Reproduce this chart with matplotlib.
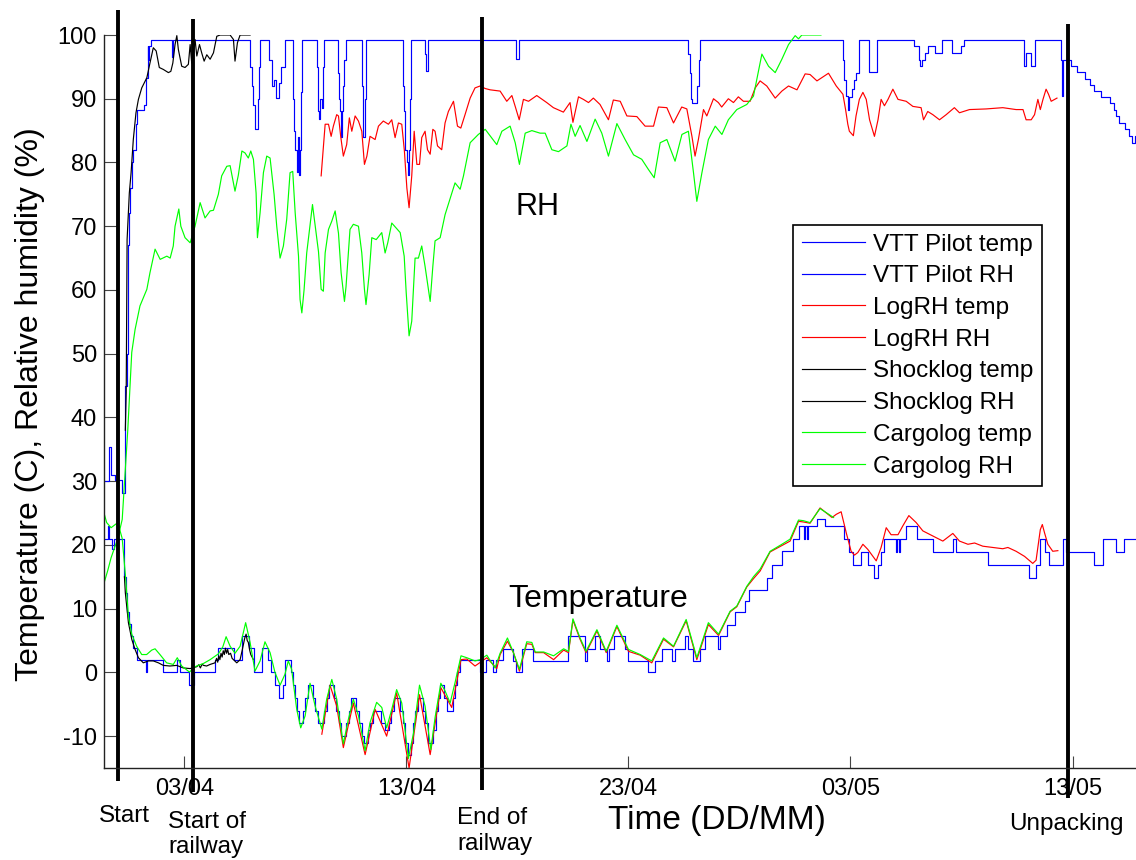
import numpy as np
import matplotlib
matplotlib.use("Agg")
import matplotlib.pyplot as plt
import matplotlib.dates as mdates

plt.rcParams.update({"font.family": ["Liberation Sans", "DejaVu Sans"],
                     "axes.unicode_minus": False})

# all times are days after 03/04 00:00
BASE = np.datetime64("2009-04-03T00:00")

# ---------------------------------------------------------------
# VTT Pilot (blue, stepped logger)
# ---------------------------------------------------------------
vtt_temp_day = [-3.62, -3.45, -3.38, -3.25, -3.15, -2.72, -2.64, -2.58, -2.5, -2.42, -2.32, -2.15,
                -1.73, -1.69, -0.95, -0.35, -0.2, 0.22, 0.45, 1.38, 1.53, 2.22, 2.6, 2.9, 3.12,
                3.49, 3.78, 3.9, 4.08, 4.24, 4.44, 4.54, 4.8, 4.9, 4.97, 5.05, 5.15, 5.36, 5.45,
                5.55, 5.78, 5.9, 6.02, 6.3, 6.42, 6.52, 6.75, 6.85, 6.95, 7.05, 7.3, 7.4, 7.5,
                7.75, 7.88, 8.0, 8.1, 8.28, 8.38, 8.48, 8.85, 9.05, 9.22, 9.32, 9.45, 9.72, 9.85,
                9.95, 10.05, 10.2, 10.3, 10.4, 10.5, 10.75, 10.85, 10.95, 11.2, 11.32, 11.42,
                11.5, 11.7, 11.85, 12.1, 12.2, 12.3, 12.4, 13.32, 13.6, 13.92, 14.05, 14.34,
                14.82, 14.94, 15.2, 15.72, 17.3, 18.05, 18.15, 18.5, 18.73, 19.03, 19.14, 19.33,
                19.85, 20.0, 20.9, 21.2, 21.5, 21.95, 22.1, 22.55, 22.7, 22.93, 23.23, 23.45,
                24.05, 24.13, 24.43, 24.81, 25.26, 25.41, 26.23, 26.46, 26.91, 27.43, 27.66,
                27.9, 27.95, 28.05, 28.1, 28.48, 28.86, 29.73, 29.93, 30.11, 30.48, 30.78, 31.04,
                31.23, 31.38, 31.53, 32.04, 32.08, 32.19, 32.23, 32.51, 32.99, 33.71, 34.61,
                34.76, 36.19, 38.06, 38.34, 38.55, 38.74, 38.96, 39.59, 39.72, 40.99, 41.37,
                41.97, 42.34, 42.87]
vtt_temp_val = [21.0, 23.0, 21.0, 19.3, 21.0, 15.0, 12.5, 9.5, 7.6, 5.7, 3.8, 1.9,
                0.0, 1.9, 0.0, 1.9, 0.0, -2.0, 0.0, 1.9, 3.8, 1.9, 5.7, 3.8, 0.0,
                3.8, 1.9, 0.0, -2.0, -4.0, -2.0, 1.9, 0.0, -2.0, -4.0, -6.0, -8.0, -6.0, -4.0,
                -2.0, -4.0, -6.0, -8.0, -6.0, -4.0, -2.0, -4.0, -6.0, -8.0, -10.0, -8.0, -6.0, -4.0,
                -6.0, -8.0, -10.0, -11.0, -9.0, -8.0, -6.0, -8.0, -9.0, -8.0, -6.0, -4.0, -6.0, -8.0,
                -11.0, -13.0, -11.0, -8.0, -6.0, -4.0, -6.0, -8.0, -11.0, -9.0, -6.0, -4.0,
                -2.0, -4.0, -6.0, -4.0, -2.0, 0.0, 1.9, 0.0, 1.9, 0.0, 1.9, 3.7,
                1.8, 0.0, 3.7, 1.8, 5.7, 1.8, 3.7, 5.7, 3.7, 1.8, 3.7, 5.7,
                3.7, 1.8, 0.0, 1.8, 3.7, 1.8, 3.7, 5.7, 3.7, 1.8, 3.7, 5.7,
                3.7, 5.7, 7.5, 9.4, 11.2, 13.0, 14.85, 16.8, 19.0, 21.0, 23.0,
                21.0, 23.0, 21.0, 23.0, 24.0, 23.0, 21.0, 18.9, 16.9, 18.9, 16.9, 14.85,
                16.9, 18.9, 21.0, 18.9, 21.0, 18.9, 21.0, 23.0, 21.0, 18.9, 21.0,
                18.9, 16.9, 14.85, 16.9, 21.0, 18.9, 16.9, 21.0, 18.9, 16.9, 21.0,
                18.9, 21.0, 21.0]

vtt_rh_day = [-3.62, -3.39, -3.3, -3.12, -2.8, -2.69, -2.6, -2.56, -2.5, -2.45, -2.38, -2.3, -2.2,
              -2.14, -1.8, -1.72, -1.66, -1.62, -1.58, -1.5, -0.55, -0.5, 2.97, 3.05, 3.1, 3.2,
              3.3, 3.35, 3.41, 3.83, 3.95, 4.05, 4.13, 4.25, 4.35, 4.54, 4.88, 4.95, 5.0, 5.05,
              5.1, 5.15, 5.2, 5.25, 5.29, 5.98, 6.02, 6.08, 6.12, 6.18, 6.25, 6.28, 6.92, 6.97,
              7.02, 7.05, 7.1, 7.15, 7.2, 7.3, 8.0, 8.05, 8.12, 8.17, 9.84, 9.9, 9.95, 10.02,
              10.08, 10.12, 10.16, 10.2, 10.86, 10.9, 10.96, 14.95, 15.05, 22.69, 22.75, 22.82,
              22.88, 23.1, 23.18, 23.23, 29.66, 29.72, 29.78, 29.88, 29.95, 30.05, 30.15, 30.26,
              30.38, 30.84, 31.18, 32.88, 33.08, 33.15, 33.22, 33.35, 33.5, 33.82, 34.12, 34.57,
              34.96, 35.1, 37.8, 37.92, 38.14, 38.33, 39.5, 39.54, 39.58, 39.94, 40.2, 40.54,
              40.8, 40.95, 41.29, 41.67, 41.85, 41.97, 42.1, 42.36, 42.55, 42.66, 42.8, 42.9]
vtt_rh_val = [30.0, 35.3, 31.0, 30.2, 28.1, 45.0, 50.0, 67.0, 72.0, 76.0, 80.0, 82.0, 86.0,
              88.3, 89.0, 93.3, 98.2, 96.0, 98.2, 99.2, 96.6, 99.2, 95.0, 92.0, 89.0, 85.2,
              90.0, 95.0, 99.2, 96.0, 92.0, 93.0, 90.1, 92.5, 95.0, 99.2, 90.0, 85.0, 82.0, 78.5,
              84.0, 78.0, 82.0, 91.0, 99.2, 95.0, 88.0, 86.8, 90.0, 88.5, 95.0, 99.2, 94.0, 90.0,
              88.0, 84.0, 88.0, 92.0, 96.0, 99.2, 92.0, 84.0, 90.0, 99.2, 92.0, 88.0, 82.0, 80.0,
              78.0, 82.0, 90.0, 99.2, 97.0, 94.3, 99.2, 96.3, 99.2, 97.0, 94.0, 90.0,
              89.3, 92.0, 96.0, 99.2, 96.0, 93.0, 90.5, 88.3, 90.3, 91.5, 93.0, 94.1,
              99.2, 94.2, 99.2, 98.2, 96.1, 95.2, 96.1, 97.1, 98.2, 97.1, 99.2, 97.1,
              98.2, 99.2, 95.2, 97.1, 95.2, 99.2, 96.1, 90.5, 96.1, 95.1, 94.2, 93.1,
              92.1, 91.2, 90.3, 89.4, 88.3, 87.3, 86.2, 85.2, 84.1, 83.1, 84.1, 84.1]

# ---------------------------------------------------------------
# LogRH (red)
# ---------------------------------------------------------------
logrh_temp_day = [6.19, 6.56, 6.86, 7.16, 7.61, 8.14, 8.59, 9.11, 9.56, 10.12, 10.59, 11.07, 11.55,
                  12.04, 12.46, 12.72, 13.09, 13.62, 14.07, 14.22, 14.55, 14.82, 15.09, 15.42, 15.65,
                  15.8, 16.18, 16.63, 17.08, 17.3, 17.5, 17.82, 18.09, 18.58, 19.0, 19.48, 20.0,
                  20.53, 21.05, 21.58, 22.03, 22.6, 23.08, 23.6, 24.06, 24.58, 24.88, 25.33, 25.63,
                  25.93, 26.38, 26.91, 27.28, 27.66, 27.88, 28.18, 28.63, 29.17, 29.36, 29.58,
                  29.81, 30.03, 30.18, 30.33, 30.56, 30.78, 31.16, 31.38, 31.61, 31.83, 32.14,
                  32.36, 32.63, 32.96, 33.26, 33.71, 34.16, 34.61, 34.91, 35.29, 35.59, 35.96,
                  36.41, 36.86, 37.09, 37.46, 37.84, 38.21, 38.36, 38.55, 38.64, 38.74, 38.89,
                  39.11, 39.34]
logrh_temp_val = [-9.7, -2.0, -5.3, -11.8, -4.8, -12.9, -5.8, -10.0, -3.2, -15.0, -3.5, -12.9, -2.4,
                  -5.5, 2.0, 2.1, 1.0, 2.3, 0.6, 2.8, 4.9, 3.1, 0.2, 4.5, 4.4,
                  3.1, 3.1, 2.0, 3.5, 3.1, 8.2, 5.2, 3.1, 6.5, 3.1, 7.2, 3.3,
                  2.7, 1.5, 5.2, 4.0, 8.1, 2.0, 7.5, 5.8, 9.5, 10.3, 13.4, 14.7,
                  15.9, 18.9, 19.9, 20.6, 23.7, 23.6, 23.4, 25.8, 24.3, 24.8, 25.2,
                  21.9, 19.0, 18.4, 18.8, 20.1, 19.3, 17.5, 19.6, 22.7, 21.6, 21.6,
                  23.0, 24.6, 23.5, 22.2, 21.4, 20.6, 21.8, 20.6, 20.1, 20.3, 19.8,
                  19.6, 19.4, 19.6, 19.0, 18.2, 17.1, 17.6, 22.4, 23.2, 21.9, 20.1,
                  19.0, 19.1]

logrh_rh_day = [6.16, 6.34, 6.49, 6.61, 6.71, 6.86, 6.94, 7.04, 7.16, 7.31, 7.43, 7.54, 7.69, 7.84,
                7.99, 8.11, 8.22, 8.36, 8.59, 8.74, 8.96, 9.19, 9.34, 9.49, 9.64, 9.79, 9.91, 10.02,
                10.12, 10.24, 10.35, 10.47, 10.59, 10.69, 10.84, 10.95, 11.07, 11.19, 11.29, 11.4,
                11.59, 11.74, 11.89, 12.12, 12.3, 12.45, 12.64, 12.87, 13.09, 13.32, 13.55, 13.77,
                14.22, 14.52, 14.75, 14.9, 15.08, 15.27, 15.5, 15.87, 16.32, 16.62, 17.07, 17.37,
                17.5, 17.75, 17.97, 18.2, 18.42, 18.72, 19.1, 19.32, 19.63, 19.93, 20.38, 20.75,
                21.13, 21.35, 21.73, 22.03, 22.4, 22.63, 22.86, 23.0, 23.15, 23.38, 23.53, 23.83,
                24.05, 24.2, 24.5, 24.73, 24.95, 25.18, 25.48, 25.71, 25.93, 26.23, 26.61, 26.91,
                27.21, 27.59, 27.96, 28.18, 28.49, 29.01, 29.36, 29.66, 29.78, 29.88, 29.95, 30.13,
                30.25, 30.4, 30.56, 30.71, 30.86, 31.08, 31.24, 31.38, 31.53, 31.69, 31.91, 32.14,
                32.51, 32.81, 33.18, 33.29, 33.48, 33.71, 34.01, 34.31, 34.68, 34.91, 35.36, 36.11,
                36.86, 37.46, 37.77, 37.91, 38.14, 38.29, 38.44, 38.55, 38.67, 38.81, 38.92, 39.04,
                39.19, 39.3]
logrh_rh_val = [77.9, 86.0, 86.0, 84.1, 85.7, 87.5, 87.3, 84.1, 81.0, 82.8, 87.0, 84.9, 87.3, 86.5,
                84.9, 79.7, 81.0, 84.1, 83.6, 85.7, 86.5, 86.0, 86.7, 83.9, 86.2, 86.0, 81.8, 76.0,
                72.9, 77.9, 84.9, 79.7, 79.7, 83.9, 84.9, 82.0, 81.3, 85.2, 84.9, 82.6,
                82.0, 86.2, 88.0, 89.6, 85.7, 85.4, 87.5, 90.1, 91.7, 92.0, 91.6, 91.4,
                91.2, 89.6, 90.5, 88.8, 86.7, 89.9, 89.6, 90.5, 89.4, 88.6, 87.9, 89.4,
                86.3, 90.3, 89.9, 89.4, 90.1, 89.1, 86.7, 89.8, 89.6, 87.3, 87.2, 85.7,
                85.7, 88.7, 88.6, 86.2, 88.7, 88.4, 84.1, 81.0, 83.6, 88.3, 87.3, 90.0,
                89.4, 88.7, 90.0, 89.4, 90.3, 89.6, 89.6, 91.7, 92.8, 92.0, 90.1, 91.2,
                92.0, 91.4, 93.9, 93.8, 92.8, 94.0, 92.0, 90.7, 88.3, 86.0, 84.9, 84.2,
                87.3, 89.9, 91.0, 89.9, 86.7, 84.1, 86.7, 89.9, 88.9, 89.9, 91.5, 89.9,
                89.6, 88.8, 88.6, 86.7, 88.0, 87.5, 86.7, 87.5, 88.6, 87.8, 88.3, 88.4,
                88.6, 88.3, 88.3, 86.7, 86.7, 87.5, 89.9, 88.3, 89.9, 91.5, 90.7, 89.6,
                89.9, 90.1]

# ---------------------------------------------------------------
# Shocklog (black)
# ---------------------------------------------------------------
shock_temp_day = [-2.7, -2.66, -2.52, -2.37, -2.22, -2.07, -1.85, -1.62, -1.4, -1.17, -0.95, -0.65,
                  -0.35, -0.05, 0.26, 0.56, 0.65, 0.72, 0.8, 0.86, 1.0, 1.16, 1.38, 1.45, 1.5, 1.55,
                  1.6, 1.65, 1.7, 1.75, 1.8, 1.85, 1.9, 1.95, 2.0, 2.08, 2.15, 2.21, 2.36, 2.51,
                  2.6, 2.66, 2.72, 2.78, 2.83, 2.88, 2.94, 2.99, 3.05, 3.11]
shock_temp_val = [15.0, 12.5, 7.8, 5.2, 3.6, 2.3, 1.5, 1.8, 1.8, 1.5, 1.1, 1.0,
                  1.1, 0.7, 0.6, 0.9, 1.2, 0.7, 1.3, 1.1, 1.0, 1.25, 1.5, 2.2, 1.6, 2.6,
                  2.0, 3.0, 2.4, 3.4, 2.8, 3.8, 3.0, 3.6, 2.8, 3.0, 2.2, 2.0, 1.5, 2.0,
                  3.4, 4.4, 5.4, 6.0, 5.0, 4.7, 3.5, 2.8, 2.4, 2.0]

shock_rh_day = [-2.66, -2.62, -2.58, -2.48, -2.4, -2.3, -2.18, -2.07, -1.92, -1.69, -1.55, -1.4,
                -1.27, -1.13, -0.95, -0.72, -0.61, -0.52, -0.42, -0.34, -0.27, -0.12, 0.03, 0.18,
                0.26, 0.33, 0.48, 0.56, 0.68, 0.78, 0.89, 1.01, 1.16, 1.31, 1.46, 1.61, 2.06,
                2.21, 2.28, 2.39, 2.51, 2.96]
shock_rh_val = [38.0, 43.9, 67.9, 75.2, 78.4, 83.6, 87.8, 89.9, 91.7, 93.3, 95.6, 98.0,
                97.5, 94.9, 94.6, 94.1, 94.3, 95.6, 98.5, 99.9, 97.7, 95.1, 94.9, 95.4,
                98.5, 95.6, 99.3, 96.7, 98.5, 97.2, 95.9, 96.9, 96.2, 97.2, 99.8, 100.0, 100.0,
                99.3, 95.9, 98.8, 100.0, 100.0]

# ---------------------------------------------------------------
# Cargolog (green)
# ---------------------------------------------------------------
cargo_temp_day = [-3.62, -3.5, -3.3, -3.0, -2.8, -2.65, -2.52, -2.37, -2.15, -1.92, -1.7, -1.47,
                  -1.32, -1.1, -0.8, -0.5, -0.32, -0.12, 0.23, 0.48, 0.86, 1.16, 1.53, 1.73, 1.88,
                  2.06, 2.28, 2.51, 2.76, 2.96, 3.18, 3.41, 3.63, 3.86, 4.08, 4.31, 4.53, 4.68,
                  4.83, 5.06, 5.24, 5.44, 5.66, 5.89, 6.19, 6.41, 6.64, 6.86, 7.16, 7.39, 7.61,
                  7.84, 8.14, 8.36, 8.66, 8.89, 9.11, 9.34, 9.56, 9.79, 10.09, 10.32, 10.59, 10.84,
                  11.1, 11.29, 11.55, 11.74, 11.97, 12.19, 12.46, 12.72, 13.09, 13.32, 13.62,
                  13.99, 14.22, 14.55, 14.82, 15.09, 15.42, 15.65, 15.8, 16.18, 16.63, 17.08,
                  17.3, 17.5, 17.82, 18.09, 18.58, 19.0, 19.48, 20.0, 20.53, 21.05, 21.58, 22.03,
                  22.6, 23.08, 23.6, 24.06, 24.58, 24.88, 25.33, 25.63, 25.93, 26.38, 26.91,
                  27.28, 27.66, 27.88, 28.18, 28.63, 29.24]
cargo_temp_val = [25.0, 23.5, 22.7, 23.5, 21.0, 15.0, 8.8, 6.0, 4.1, 2.8, 2.8, 3.5,
                  3.7, 2.8, 1.5, 1.25, 2.3, 1.0, 0.05, 0.9, 1.4, 2.0, 2.9, 4.0, 5.6,
                  4.1, 3.0, 4.1, 7.8, 4.7, 0.2, 1.8, 4.8, 3.1, 0.0, -2.0, -0.3, 1.8,
                  0.5, -5.8, -8.7, -6.8, -1.7, -5.3, -8.9, -4.2, -1.1, -4.2, -11.2, -7.3, -4.2,
                  -6.8, -12.3, -7.9, -4.7, -5.5, -8.7, -5.8, -2.7, -4.8, -13.5, -9.5, -2.0, -5.3,
                  -12.1, -7.1, -1.7, -2.9, -4.8, -1.6, 2.6, 2.3, 1.8, 2.0, 2.7,
                  0.7, 3.0, 5.4, 3.1, 0.5, 4.8, 4.7, 3.2, 3.2, 2.6, 3.7,
                  3.3, 8.4, 5.4, 3.3, 6.7, 3.3, 7.4, 3.6, 2.8, 1.8, 5.4, 4.1,
                  8.3, 2.3, 7.8, 6.0, 9.6, 10.4, 13.5, 15.0, 16.2, 19.0, 20.1,
                  20.9, 23.9, 23.8, 23.5, 25.7, 24.3]

cargo_rh_day = [-3.62, -3.45, -3.3, -3.0, -2.8, -2.55, -2.37, -2.22, -2.0, -1.69, -1.55, -1.32,
                -1.09, -0.79, -0.64, -0.5, -0.42, -0.25, -0.16, 0.03, 0.26, 0.48, 0.71, 0.93,
                1.16, 1.31, 1.53, 1.68, 1.91, 2.06, 2.28, 2.43, 2.59, 2.73, 2.88, 2.99, 3.11,
                3.23, 3.29, 3.41, 3.56, 3.71, 3.86, 4.04, 4.16, 4.31, 4.46, 4.61, 4.76, 4.88,
                4.99, 5.14, 5.21, 5.29, 5.39, 5.51, 5.77, 5.93, 6.04, 6.16, 6.26, 6.34, 6.49,
                6.64, 6.79, 6.94, 7.06, 7.21, 7.28, 7.46, 7.61, 7.84, 7.99, 8.11, 8.18, 8.32,
                8.44, 8.64, 8.82, 8.89, 9.04, 9.16, 9.34, 9.54, 9.72, 9.9, 9.99, 10.12, 10.24,
                10.39, 10.54, 10.69, 10.84, 11.07, 11.19, 11.29, 11.52, 11.74, 12.19, 12.42,
                12.57, 12.87, 13.24, 13.55, 14.07, 14.3, 14.67, 14.9, 15.09, 15.35, 15.65,
                16.02, 16.25, 16.55, 16.85, 17.23, 17.41, 17.6, 17.82, 18.13, 18.5, 18.8, 19.1,
                19.48, 19.85, 20.23, 20.6, 20.9, 21.16, 21.43, 21.73, 22.1, 22.41, 22.7, 22.93,
                23.08, 23.31, 23.6, 23.91, 24.21, 24.5, 24.88, 25.33, 25.63, 26.01, 26.31,
                26.61, 26.91, 27.21, 27.51, 27.66, 27.81, 28.67]
cargo_rh_val = [14.0, 16.0, 18.0, 21.0, 24.0, 38.0, 50.2, 53.8, 57.5, 60.1, 62.7, 66.4,
                64.8, 65.3, 65.0, 66.9, 70.0, 72.7, 70.0, 68.2, 67.4, 70.0, 73.7, 71.3,
                72.4, 72.5, 75.0, 77.9, 79.4, 79.5, 75.5, 78.0, 81.8, 81.5, 80.7, 81.8, 80.5,
                75.2, 68.2, 72.1, 78.4, 81.0, 80.7, 75.0, 70.0, 65.0, 66.9, 71.1, 78.4, 78.6,
                72.1, 65.3, 58.5, 56.4, 60.0, 65.8, 73.4, 69.0, 66.0, 60.1, 59.8, 65.8, 69.5,
                70.8, 72.4, 68.9, 62.7, 58.2, 60.5, 69.5, 70.3, 70.0, 65.8, 60.1, 57.7, 62.4,
                68.2, 67.9, 68.7, 69.0, 65.8, 67.4, 70.5, 69.7, 69.0, 65.3, 59.6, 52.8, 55.1,
                65.0, 65.0, 66.9, 63.7, 58.2, 63.7, 67.7, 68.2, 71.8, 76.8, 75.8,
                77.9, 83.1, 84.4, 85.2, 82.8, 84.9, 85.7, 83.1, 79.7, 84.6, 85.0,
                84.6, 84.6, 82.0, 81.7, 82.6, 86.0, 84.1, 85.8, 83.3, 86.8, 84.6, 81.0,
                86.1, 83.6, 81.2, 80.5, 78.9, 77.6, 83.1, 83.6, 80.2, 84.4, 84.9, 78.4,
                73.9, 78.4, 83.6, 85.7, 84.4, 86.7, 88.3, 89.1, 90.4, 97.0, 95.1,
                94.1, 96.2, 98.5, 99.9, 99.4, 100.0, 100.0]

# event markers
event_day = [-2.99, 0.39, 13.41, 39.79]
event_top = [103.9, 102.5, 102.8, 101.7]
event_bottom = [-17.0, -18.7, -18.4, -19.7]
event_label = ["Start", "Start of\nrailway", "End of\nrailway", "Unpacking"]
label_day = [-2.71, -0.73, 12.28, 39.72]
label_y = [-22.6, -25.4, -24.9, -23.8]
label_ha = ["center", "left", "left", "center"]


def to_dates(days):
    mins = np.round(np.asarray(days, dtype=float) * 1440).astype("timedelta64[m]")
    return BASE + mins


fig = plt.figure(figsize=(11.36, 8.6), dpi=100)
ax = fig.add_axes([104 / 1136, 92 / 860, 1032 / 1136, 733 / 860])

lw = 0.85
series = [
    (vtt_temp_day, vtt_temp_val, "#0000ff", "VTT Pilot temp", True),
    (vtt_rh_day, vtt_rh_val, "#0000ff", "VTT Pilot RH", True),
    (logrh_temp_day, logrh_temp_val, "#ff0000", "LogRH temp", False),
    (logrh_rh_day, logrh_rh_val, "#ff0000", "LogRH RH", False),
    (shock_temp_day, shock_temp_val, "#000000", "Shocklog temp", False),
    (shock_rh_day, shock_rh_val, "#000000", "Shocklog RH", False),
    (cargo_temp_day, cargo_temp_val, "#00ff00", "Cargolog temp", False),
    (cargo_rh_day, cargo_rh_val, "#00ff00", "Cargolog RH", False),
]
handles = []
for d, v, c, lab, stepped in series:
    h, = ax.plot(to_dates(d), v, color=c, lw=lw, label=lab,
                 drawstyle="steps-post" if stepped else "default")
    handles.append(h)

# vertical event lines and their labels
for d, top, bot in zip(event_day, event_top, event_bottom):
    t = to_dates([d, d])
    ax.plot(t, [top, bot], color="black", lw=2.8, clip_on=False, solid_capstyle="butt")
for d, lab, y, ha in zip(label_day, event_label, label_y, label_ha):
    ax.text(to_dates([d])[0], y, lab, ha=ha, va="center", fontsize=17.5,
            linespacing=1.2, clip_on=False)

ax.text(to_dates([14.9])[0], 71.8, "RH", fontsize=22, va="baseline")
ax.text(to_dates([14.6])[0], 10.3, "Temperature", fontsize=23, va="baseline")

ax.set_xlim(to_dates([-3.62])[0], to_dates([42.86])[0])
ax.set_ylim(-15, 100)
ax.set_yticks(np.arange(-10, 101, 10))
ax.xaxis.set_major_locator(mdates.DayLocator(bymonthday=[3, 13, 23]))
ax.xaxis.set_major_formatter(mdates.DateFormatter("%d/%m"))

for s in ["top", "right"]:
    ax.spines[s].set_visible(False)
for s in ["left", "bottom"]:
    ax.spines[s].set_linewidth(1.0)
    ax.spines[s].set_color("#222222")
ax.tick_params(direction="in", length=9, width=0.8, color="#444444", labelsize=17)
ax.tick_params(axis="x", pad=7)
ax.tick_params(axis="y", pad=5)

ax.set_xlabel("Time (DD/MM)", fontsize=24, va="center")
ax.xaxis.set_label_coords((717 - 104) / 1032, (768 - 821) / 733)
ax.set_ylabel("Temperature (C), Relative humidity (%)", fontsize=23, va="center")
ax.yaxis.set_label_coords((30 - 104) / 1032, 0.497)

leg = fig.legend(handles=handles, loc="upper left", bbox_to_anchor=(793 / 1136, 1 - 225 / 860),
                 borderaxespad=0, fontsize=17.5, frameon=True, fancybox=False,
                 labelspacing=0.4, handlelength=2.6, handletextpad=0.35, borderpad=0.35)
leg.get_frame().set_edgecolor("black")
leg.get_frame().set_linewidth(1.2)
leg.get_frame().set_alpha(1)

fig.savefig("out.png", dpi=100)
